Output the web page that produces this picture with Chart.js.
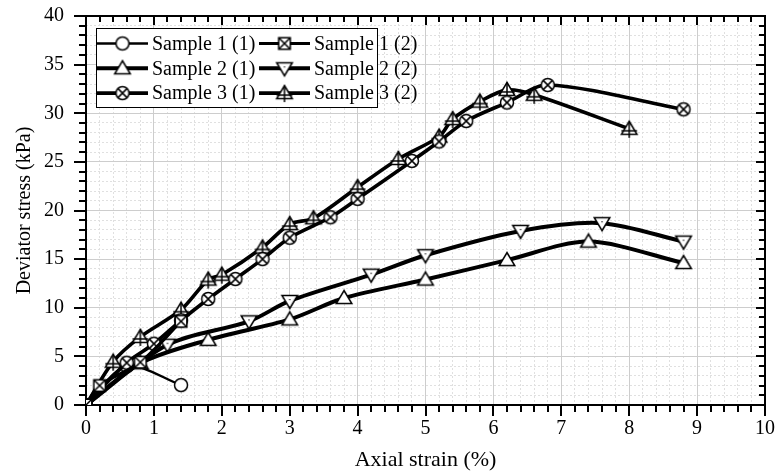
<!DOCTYPE html>
<html lang="en">
<head>
<meta charset="UTF-8">
<title>Deviator stress vs axial strain</title>
<script src="https://cdn.jsdelivr.net/npm/chart.js"></script>
<style>
  html, body { margin: 0; padding: 0; background: #fff; }
  #wrap { width: 776px; height: 473px; }
</style>
</head>
<body>
<div id="wrap"><canvas id="stressChart" width="776" height="473"></canvas></div>
<script>
  // values (axial strain %, deviator stress kPa)
  const s1aX = [0, 0.6, 1.4];
  const s1aY = [0, 4.0, 2.05];
  const s1bX = [0, 0.2, 0.8, 1.4];
  const s1bY = [0, 2.0, 4.4, 8.6];
  const s2aX = [0, 0.8, 1.8, 3.0, 3.8, 5.0, 6.2, 7.4, 8.8];
  const s2aY = [0, 4.3, 6.7, 8.8, 11.0, 12.9, 14.9, 16.8, 14.6];
  const s2bX = [0, 1.2, 2.4, 3.0, 4.2, 5.0, 6.4, 7.6, 8.8];
  const s2bY = [0, 6.2, 8.6, 10.7, 13.4, 15.4, 17.9, 18.7, 16.8];
  const s3aX = [0, 0.6, 1.0, 1.4, 1.8, 2.2, 2.6, 3.0, 3.6, 4.0, 4.8, 5.2, 5.6, 6.2, 6.8, 8.8];
  const s3aY = [0, 4.35, 6.3, 8.7, 10.9, 12.95, 15.0, 17.2, 19.3, 21.2, 25.1, 27.1, 29.2, 31.1, 32.9, 30.4];
  const s3bX = [0, 0.4, 0.8, 1.4, 1.8, 2.0, 2.6, 3.0, 3.35, 4.0, 4.6, 5.2, 5.4, 5.8, 6.2, 6.6, 8.0];
  const s3bY = [0, 4.45, 7.0, 9.8, 12.9, 13.4, 16.2, 18.6, 19.2, 22.4, 25.3, 27.6, 29.4, 31.2, 32.4, 31.9, 28.4];

  const seriesNames = ['Sample 1 (1)', 'Sample 1 (2)', 'Sample 2 (1)', 'Sample 2 (2)', 'Sample 3 (1)', 'Sample 3 (2)'];
  const xTickLabels = ['0', '1', '2', '3', '4', '5', '6', '7', '8', '9', '10'];
  const yTickLabels = ['0', '5', '10', '15', '20', '25', '30', '35', '40'];

  const FONT = "'Liberation Serif', 'Times New Roman', serif";
  const near = (v, step) => Math.abs(v / step - Math.round(v / step)) < 1e-6;

  // open symbols like the Origin markers
  function marker(kind) {
    const c = document.createElement('canvas');
    c.width = 20; c.height = 20;
    const g = c.getContext('2d');
    const m = 10;
    g.lineWidth = 1.5;
    g.strokeStyle = '#000';
    g.fillStyle = '#fff';
    g.beginPath();
    if (kind === 'circle' || kind === 'circleX') g.arc(m, m, 6.5, 0, Math.PI * 2);
    else if (kind === 'squareX') g.rect(m - 5.8, m - 5.8, 11.6, 11.6);
    else if (kind === 'up' || kind === 'upPlus') {
      g.moveTo(m, m - 7.5); g.lineTo(m + 7.8, m + 5.5); g.lineTo(m - 7.8, m + 5.5); g.closePath();
    } else if (kind === 'down') {
      g.moveTo(m, m + 7.5); g.lineTo(m + 7.8, m - 5.5); g.lineTo(m - 7.8, m - 5.5); g.closePath();
    }
    g.fill();
    g.stroke();
    g.beginPath();
    if (kind === 'circleX') {
      const d = 4.6;
      g.moveTo(m - d, m - d); g.lineTo(m + d, m + d);
      g.moveTo(m + d, m - d); g.lineTo(m - d, m + d);
    } else if (kind === 'squareX') {
      g.moveTo(m - 5.8, m - 5.8); g.lineTo(m + 5.8, m + 5.8);
      g.moveTo(m + 5.8, m - 5.8); g.lineTo(m - 5.8, m + 5.8);
    } else if (kind === 'upPlus') {
      g.moveTo(m, m - 7.5); g.lineTo(m, m + 9);
      g.moveTo(m - 7.8, m + 2); g.lineTo(m + 7.8, m + 2);
    }
    g.stroke();
    if (kind === 'down') { g.fillStyle = '#000'; g.fillRect(m - 0.6, m - 2, 1.2, 1.2); }
    return c;
  }

  const pts = (xs, ys) => xs.map((x, i) => ({ x: x, y: ys[i] }));

  const styles = [
    { xs: s1aX, ys: s1aY, mk: marker('circle'), w: 2.4, order: 10 },
    { xs: s1bX, ys: s1bY, mk: marker('squareX'), w: 3.2, order: 0 },
    { xs: s2aX, ys: s2aY, mk: marker('up'), w: 4, order: 3 },
    { xs: s2bX, ys: s2bY, mk: marker('down'), w: 4, order: 4 },
    { xs: s3aX, ys: s3aY, mk: marker('circleX'), w: 3.6, order: 1 },
    { xs: s3bX, ys: s3bY, mk: marker('upPlus'), w: 3.6, order: 2 }
  ];

  const datasets = styles.map((s, i) => ({
    label: seriesNames[i],
    data: pts(s.xs, s.ys),
    showLine: true,
    borderColor: '#000',
    backgroundColor: '#fff',
    borderWidth: s.w,
    tension: 0.3,
    pointStyle: s.mk,
    pointRadius: 7,
    order: s.order
  }));

  const gridColor = (c, step) => (c.tick && near(c.tick.value, step)) ? '#cdcdcd' : '#e0e0e0';
  const gridDash = (c, step) => (c.tick && !near(c.tick.value, step)) ? [2, 2] : [];

  // black frame with outward ticks (bottom/left) and inward ticks (top/right)
  const framePlugin = {
    id: 'frame',
    beforeDatasetsDraw(chart) {
      const { ctx, chartArea: a, scales: { x, y } } = chart;
      ctx.save();
      ctx.strokeStyle = '#000';
      ctx.lineWidth = 2;
      ctx.strokeRect(a.left, a.top, a.right - a.left, a.bottom - a.top);
      ctx.beginPath();
      x.ticks.forEach(t => {
        const px = Math.round(x.getPixelForValue(t.value));
        const major = near(t.value, 1);
        ctx.moveTo(px, a.bottom); ctx.lineTo(px, a.bottom + (major ? 11 : 7));
        ctx.moveTo(px, a.top); ctx.lineTo(px, a.top + (major ? 9 : 6));
      });
      y.ticks.forEach(t => {
        const py = Math.round(y.getPixelForValue(t.value));
        const major = near(t.value, 5);
        ctx.moveTo(a.left, py); ctx.lineTo(a.left - (major ? 12 : 7), py);
        ctx.moveTo(a.right, py); ctx.lineTo(a.right - (major ? 9 : 6), py);
      });
      ctx.stroke();
      ctx.restore();
    }
  };

  // boxed legend in two columns, top left of the plot
  const legendPlugin = {
    id: 'boxLegend',
    afterDatasetsDraw(chart) {
      const ctx = chart.ctx;
      ctx.save();
      ctx.fillStyle = '#fff';
      ctx.fillRect(96.5, 28.5, 281, 79);
      ctx.strokeStyle = '#000';
      ctx.lineWidth = 1;
      ctx.strokeRect(96.5, 28.5, 281, 79);
      ctx.font = '20px ' + FONT;
      ctx.textBaseline = 'middle';
      chart.data.datasets.forEach((ds, i) => {
        const col = i % 2, row = Math.floor(i / 2);
        const x0 = col ? 259 : 97;
        const yy = 43.5 + row * 24.8;
        ctx.strokeStyle = '#000';
        ctx.lineWidth = ds.borderWidth;
        ctx.beginPath();
        ctx.moveTo(x0, yy); ctx.lineTo(x0 + 51, yy);
        ctx.stroke();
        const mk = ds.pointStyle;
        ctx.drawImage(mk, x0 + 25.5 - mk.width / 2, yy - mk.height / 2);
        ctx.fillStyle = '#000';
        ctx.fillText(ds.label, x0 + 55, yy + 1);
      });
      ctx.restore();
    }
  };

  new Chart(document.getElementById('stressChart'), {
    type: 'scatter',
    data: { datasets: datasets },
    options: {
      responsive: false,
      animation: false,
      layout: { padding: { top: 16, right: 9, left: 0, bottom: 0 } },
      plugins: { legend: { display: false }, tooltip: { enabled: false } },
      scales: {
        x: {
          type: 'linear', min: 0, max: 10,
          afterFit: s => { s.height = 68; s.paddingLeft = 0; s.paddingRight = 0; },
          ticks: {
            stepSize: 0.2, autoSkip: false, maxRotation: 0, padding: 12,
            color: '#000', font: { family: FONT, size: 20 },
            callback: v => near(v, 1) ? xTickLabels[Math.round(v)] : ''
          },
          grid: { drawTicks: false, color: c => gridColor(c, 1), lineWidth: 1 },
          border: { display: false, dash: c => gridDash(c, 1) },
          title: {
            display: true, text: 'Axial strain (%)', color: '#000',
            font: { family: FONT, size: 22 }, padding: { top: 0, bottom: 0 }
          }
        },
        y: {
          type: 'linear', min: 0, max: 40,
          afterFit: s => { s.width = 86; s.paddingTop = 0; s.paddingBottom = 0; },
          ticks: {
            stepSize: 1, autoSkip: false, padding: 22,
            color: '#000', font: { family: FONT, size: 20 },
            callback: v => near(v, 5) ? yTickLabels[Math.round(v / 5)] : ''
          },
          grid: { drawTicks: false, color: c => gridColor(c, 5), lineWidth: 1 },
          border: { display: false, dash: c => gridDash(c, 5) },
          title: {
            display: true, text: 'Deviator stress (kPa)', color: '#000',
            font: { family: FONT, size: 20 }, padding: { top: 13, bottom: 0 }
          }
        }
      }
    },
    plugins: [framePlugin, legendPlugin]
  });
</script>
</body>
</html>
